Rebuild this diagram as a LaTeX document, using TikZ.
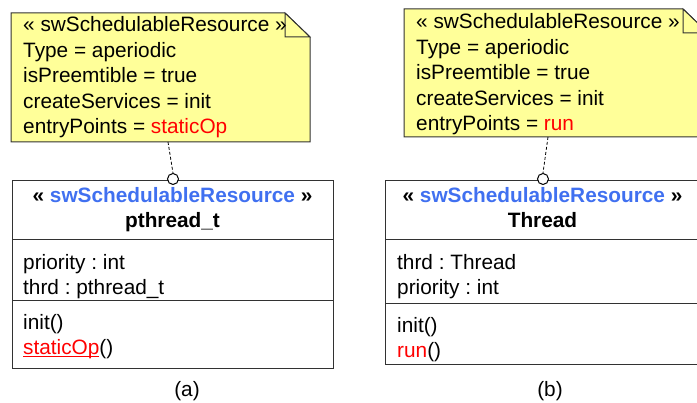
\documentclass[tikz,border=0pt]{standalone}
\usepackage{fontspec}
\setmainfont{Liberation Sans}
\frenchspacing
\definecolor{notefill}{RGB}{255,255,153}
\definecolor{stereoblue}{RGB}{64,112,240}
\definecolor{linegray}{RGB}{50,50,50}
\newcommand\myul[1]{\setbox0\hbox{#1}\rlap{\rule[-2.2pt]{\wd0}{1pt}}\box0}
\begin{document}
\begin{tikzpicture}[x=1pt,y=-1pt,
  txt/.style={anchor=base west, inner sep=0pt, font=\fontsize{20.8}{24}\selectfont},
  ctxt/.style={anchor=base, inner sep=0pt, font=\fontsize{20.8}{24}\selectfont\bfseries},
  lbl/.style={anchor=base, inner sep=0pt, font=\fontsize{20.8}{24}\selectfont},
  notebody/.style={draw=linegray, fill=notefill, line width=1pt, line join=miter},
  classbox/.style={draw=linegray, line width=1pt, inner sep=0pt, anchor=north west},
  divider/.style={draw=linegray, line width=1pt},
  lollipop/.style={circle, draw=black, fill=white, line width=1pt, minimum size=11pt, inner sep=0pt},
  tie/.style={dash pattern=on 3pt off 2pt, line width=0.8pt}]
\useasboundingbox (0,0) rectangle (697,403);
\clip (0,0) rectangle (697,403);

% ---------- (a) ----------
\draw[notebody] (11,13) -- (285,13) -- (310,37) -- (310,142) -- (11,142) -- cycle;
\draw[notebody] (285,13) -- (285,37) -- (310,37) -- cycle;
\coordinate (nota) at (168,142);
\node[txt] (na1) at (23,32) {« swSchedulableResource »};
\node[txt] (na2) at (23,57.5) {Type = aperiodic};
\node[txt] (na3) at (23,83) {isPreemtible = true};
\node[txt] (na4) at (23,108.5) {createServices = init};
\node[txt] (na5) at (23,134) {entryPoints = {\color{red}staticOp}};

\node[classbox, minimum width=321pt, minimum height=188pt] (boxa) at (12,180) {};
\draw[divider] (boxa.west |- 0,240) -- (boxa.east |- 0,240);
\draw[divider] (boxa.west |- 0,301) -- (boxa.east |- 0,301);
\node[ctxt] (sta) at (172.5,203) {« {\color{stereoblue}swSchedulableResource} »};
\node[ctxt] (nma) at (172.5,228) {pthread\_t};
\node[txt] (aa1) at (23,270) {priority : int};
\node[txt] (aa2) at (23,295) {thrd : pthread\_t};
\node[txt] (oa1) at (23,330) {init()};
\node[txt] (oa2) at (23,355) {{\color{red}\myul{staticOp}}()};
\node[lbl] (capa) at (187,397) {(a)};

\node[lollipop] (ca) at (173,179) {};
\draw[tie] (nota) -- (ca.north);

% ---------- (b) ----------
\draw[notebody] (404,9) -- (683,9) -- (708,33) -- (708,137) -- (404,137) -- cycle;
\draw[notebody] (683,9) -- (683,33) -- (708,33) -- cycle;
\coordinate (notb) at (548,137);
\node[txt] (nb1) at (416,29) {« swSchedulableResource »};
\node[txt] (nb2) at (416,54.5) {Type = aperiodic};
\node[txt] (nb3) at (416,80) {isPreemtible = true};
\node[txt] (nb4) at (416,105.5) {createServices = init};
\node[txt] (nb5) at (416,131) {entryPoints = {\color{red}run}};

\node[classbox, minimum width=316pt, minimum height=184pt] (boxb) at (385,180) {};
\draw[divider] (boxb.west |- 0,240) -- (boxb.east |- 0,240);
\draw[divider] (boxb.west |- 0,304) -- (boxb.east |- 0,304);
\node[ctxt] (stb) at (542.5,203) {« {\color{stereoblue}swSchedulableResource} »};
\node[ctxt] (nmb) at (542.5,228) {Thread};
\node[txt] (ab1) at (397,270) {thrd : Thread};
\node[txt] (ab2) at (397,295) {priority : int};
\node[txt] (ob1) at (397,333) {init()};
\node[txt] (ob2) at (397,358) {{\color{red}run}()};
\node[lbl] (capb) at (550,397) {(b)};

\node[lollipop] (cb) at (543,179) {};
\draw[tie] (notb) -- (cb.north);
\end{tikzpicture}
\end{document}
